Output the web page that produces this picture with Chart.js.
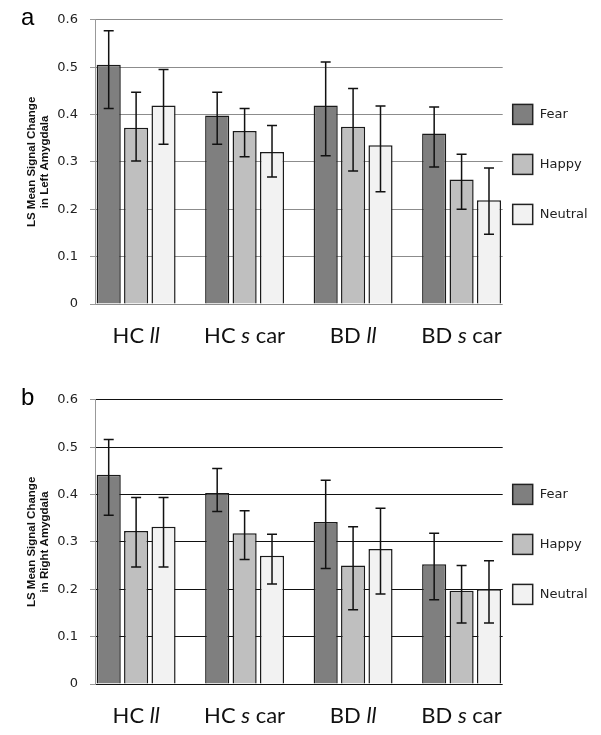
<!DOCTYPE html>
<html>
<head>
<meta charset="utf-8">
<script src="https://cdn.jsdelivr.net/npm/chart.js@4.4.0/dist/chart.umd.min.js"></script>
<style>
  html, body { margin: 0; padding: 0; background: #fff; }
  #wrap { position: relative; width: 601px; height: 735px; }
  .panel { position: absolute; left: 0; width: 601px; height: 355px; }
</style>
</head>
<body>
<div id="wrap">
  <div class="panel" style="top:0"><canvas id="chartA" width="601" height="355"></canvas></div>
  <div class="panel" style="top:380px"><canvas id="chartB" width="601" height="355"></canvas></div>
</div>
<script>
// categories and series
const categories = ['HC ll', 'HC s car', 'BD ll', 'BD s car'];
const italicWords = ['ll', 's'];
const seriesNames = ['Fear', 'Happy', 'Neutral'];
const seriesColors = ['#7f7f7f', '#bfbfbf', '#f2f2f2'];
const yTickValues = [0, 0.1, 0.2, 0.3, 0.4, 0.5, 0.6];
const yTickLabels = ['0', '0.1', '0.2', '0.3', '0.4', '0.5', '0.6'];

// a: left amygdala (means, then [low, high] error bar ends)
const leftFear = [0.505, 0.398, 0.419, 0.360];
const leftHappy = [0.372, 0.365, 0.374, 0.263];
const leftNeutral = [0.419, 0.321, 0.335, 0.219];
const leftFearErr = [[0.413, 0.577], [0.337, 0.447], [0.313, 0.511], [0.289, 0.416]];
const leftHappyErr = [[0.302, 0.447], [0.311, 0.413], [0.281, 0.455], [0.200, 0.316]];
const leftNeutralErr = [[0.337, 0.495], [0.268, 0.377], [0.237, 0.418], [0.147, 0.287]];

// b: right amygdala
const rightFear = [0.442, 0.403, 0.342, 0.253];
const rightHappy = [0.323, 0.318, 0.250, 0.197];
const rightNeutral = [0.332, 0.271, 0.285, 0.200];
const rightFearErr = [[0.356, 0.516], [0.364, 0.455], [0.244, 0.430], [0.178, 0.318]];
const rightHappyErr = [[0.247, 0.394], [0.263, 0.366], [0.157, 0.332], [0.129, 0.250]];
const rightNeutralErr = [[0.247, 0.394], [0.211, 0.316], [0.190, 0.371], [0.129, 0.260]];

// error bars, mixed italic x labels, legend on the right and panel letter
const extras = {
  id: 'extras',
  afterDatasetsDraw(chart) {
    const ctx = chart.ctx, y = chart.scales.y;
    ctx.save();
    ctx.strokeStyle = '#111';
    ctx.lineWidth = 1.5;
    chart.data.datasets.forEach((ds, di) => {
      chart.getDatasetMeta(di).data.forEach((bar, i) => {
        const yl = y.getPixelForValue(ds.errs[i][0]);
        const yh = y.getPixelForValue(ds.errs[i][1]);
        const px = bar.x;
        ctx.beginPath();
        ctx.moveTo(px, yl); ctx.lineTo(px, yh);
        ctx.moveTo(px - 5, yl); ctx.lineTo(px + 5, yl);
        ctx.moveTo(px - 5, yh); ctx.lineTo(px + 5, yh);
        ctx.stroke();
      });
    });
    ctx.restore();
  },
  afterDraw(chart, args, opts) {
    const ctx = chart.ctx, area = chart.chartArea, x = chart.scales.x;
    ctx.save();
    // x labels
    ctx.fillStyle = '#111';
    ctx.textBaseline = 'alphabetic';
    const normal = '22px Lato', ital = 'italic 22px Lato';
    categories.forEach((cat, i) => {
      const words = cat.split(' ');
      ctx.font = normal;
      const sp = ctx.measureText(' ').width;
      const widths = words.map(w => { ctx.font = italicWords.includes(w) ? ital : normal; return ctx.measureText(w).width; });
      const total = widths.reduce((a, b) => a + b, 0) + sp * (words.length - 1);
      let cx = x.getPixelForValue(i) - total / 2;
      words.forEach((w, k) => {
        ctx.font = italicWords.includes(w) ? ital : normal;
        ctx.textAlign = 'left';
        ctx.fillText(w, cx, area.bottom + 39);
        cx += widths[k] + sp;
      });
    });
    // legend
    const mid = (area.top + area.bottom) / 2 + 2.5;
    ctx.font = '13px "DejaVu Sans"';
    ctx.textBaseline = 'middle';
    chart.data.datasets.forEach((ds, di) => {
      const cy = mid + (di - 1) * 50;
      const bx = area.right + 10;
      ctx.fillStyle = ds.backgroundColor;
      ctx.fillRect(bx, cy - 10, 20, 20);
      ctx.strokeStyle = '#222';
      ctx.lineWidth = 1.5;
      ctx.strokeRect(bx, cy - 10, 20, 20);
      ctx.fillStyle = '#222';
      ctx.fillText(ds.label, bx + 27, cy);
    });
    // panel letter
    ctx.font = '24px "Liberation Sans"';
    ctx.textBaseline = 'alphabetic';
    ctx.fillStyle = '#000';
    ctx.fillText(opts.letter, 21, 25);
    ctx.restore();
  }
};

function buildChart(id, letter, means, errs, title, gridColor) {
  return new Chart(document.getElementById(id), {
    type: 'bar',
    data: {
      datasets: seriesNames.map((name, s) => ({
        label: name,
        data: means[s].map((v, i) => ({ x: i, y: v })),
        errs: errs[s],
        backgroundColor: seriesColors[s],
        borderColor: '#1a1a1a',
        borderWidth: 1.5,
        categoryPercentage: 0.758,
        barPercentage: 0.88
      }))
    },
    options: {
      responsive: false,
      animation: false,
      layout: { padding: { left: 0, top: 19.3, right: 98.3, bottom: 51 } },
      plugins: {
        legend: { display: false },
        tooltip: { enabled: false },
        extras: { letter: letter }
      },
      scales: {
        x: {
          type: 'linear',
          display: false,
          offset: false,
          min: -0.379,
          max: 3.379,
          afterBuildTicks: s => { s.ticks = categories.map((c, i) => ({ value: i })); }
        },
        y: {
          min: 0,
          max: 0.6,
          afterFit: s => { s.width = 95; },
          afterBuildTicks: s => { s.ticks = yTickValues.map(v => ({ value: v })); },
          ticks: {
            padding: 12,
            color: '#222',
            font: { family: 'DejaVu Sans', size: 13 },
            callback: (v, i) => yTickLabels[i]
          },
          grid: { color: gridColor, tickColor: '#999', tickLength: 5, lineWidth: 1 },
          border: { color: '#999', width: 1 },
          title: {
            display: true,
            text: title,
            color: '#111',
            font: { family: 'Liberation Sans', weight: 'bold', size: 11.5, lineHeight: 1.1 },
            padding: { top: 25.7, bottom: 0 }
          }
        }
      }
    },
    plugins: [extras]
  });
}

buildChart('chartA', 'a',
  [leftFear, leftHappy, leftNeutral],
  [leftFearErr, leftHappyErr, leftNeutralErr],
  ['LS Mean Signal Change', 'in Left Amygdala'], '#8c8c8c');

buildChart('chartB', 'b',
  [rightFear, rightHappy, rightNeutral],
  [rightFearErr, rightHappyErr, rightNeutralErr],
  ['LS Mean Signal Change', 'in Right Amygdala'], '#111');
</script>
</body>
</html>
